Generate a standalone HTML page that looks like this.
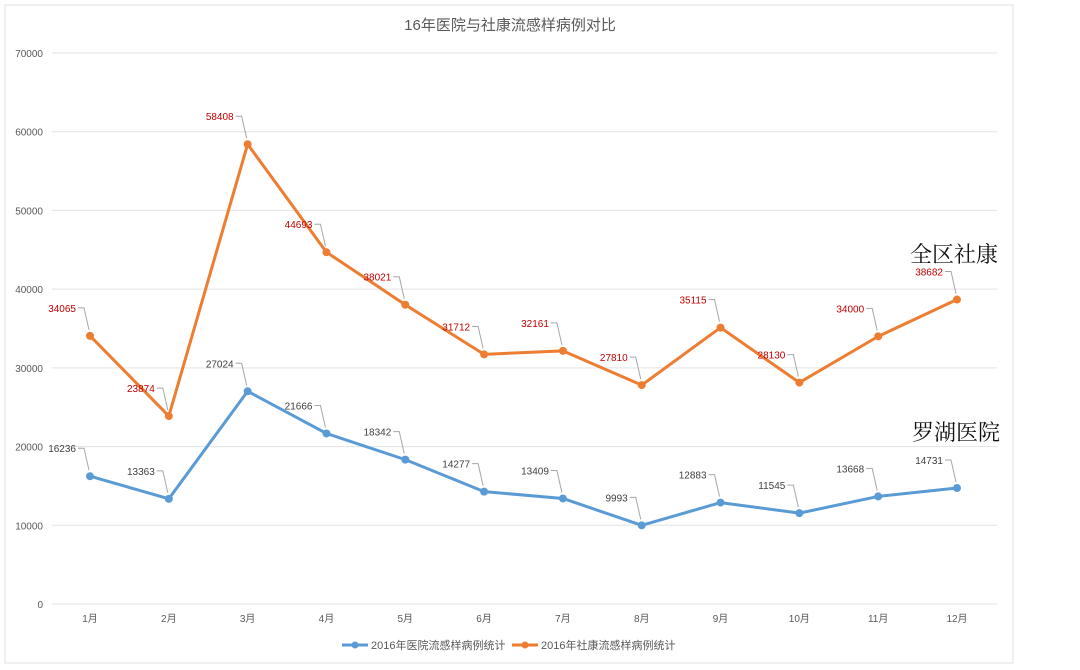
<!DOCTYPE html>
<html><head><meta charset="utf-8"><style>
body{margin:0;background:#fff;width:1080px;height:665px;overflow:hidden;font-family:"Liberation Sans","Noto Sans CJK SC",sans-serif}
</style></head><body>
<svg id="c" width="1080" height="665" xmlns="http://www.w3.org/2000/svg" font-family="Liberation Sans, Noto Sans CJK SC, sans-serif">
<rect x="5" y="5" width="1008" height="658" fill="#fff" stroke="#e0e0e0"/>
<text x="510" y="30" text-anchor="middle" font-size="15" fill="#595959">16年医院与社康流感样病例对比</text>
<g id="grid"></g><g id="xt"></g><g id="series"></g>
<text x="910" y="262" font-size="22" fill="#111" font-family="Noto Serif CJK SC, serif">全区社康</text>
<text x="912" y="440" font-size="22" fill="#111" font-family="Noto Serif CJK SC, serif">罗湖医院</text>
<g>
<line x1="342" y1="645" x2="368" y2="645" stroke="#5b9bd5" stroke-width="3"/><circle cx="355" cy="645" r="3.5" fill="#5b9bd5"/>
<text x="371" y="649" font-size="11" fill="#595959">2016年医院流感样病例统计</text>
<line x1="512" y1="645" x2="538" y2="645" stroke="#ed7d31" stroke-width="3"/><circle cx="525" cy="645" r="3.5" fill="#ed7d31"/>
<text x="541" y="649" font-size="11" fill="#595959">2016年社康流感样病例统计</text>
</g>
</svg>
<script>
const categories=["1月","2月","3月","4月","5月","6月","7月","8月","9月","10月","11月","12月"];
const hospital=[16236,13363,27024,21666,18342,14277,13409,9993,12883,11545,13668,14731];
const community=[34065,23874,58408,44693,38021,31712,32161,27810,35115,28130,34000,38682];
const yTicks=[0,10000,20000,30000,40000,50000,60000,70000];
const NS="http://www.w3.org/2000/svg";
function X(i){return 90+i*(957-90)/11;}
function Y(v){return 604-v*(604-53)/70000;}
function mk(t,a,p){const e=document.createElementNS(NS,t);for(const k in a)e.setAttribute(k,a[k]);p.appendChild(e);return e;}
const grid=document.getElementById('grid');
yTicks.forEach(v=>{
 const l=mk('line',{x1:52,x2:997,y1:Y(v),y2:Y(v),stroke:'#e3e3e3'},grid);
 
 
 const t=mk('text',{x:43,y:Y(v)+4,'text-anchor':'end','font-size':10,fill:'#595959'},grid);
 
 
 t.textContent=v;
});
const xt=document.getElementById('xt');
categories.forEach((c,i)=>{
 const t=mk('text',{x:X(i),y:622,'text-anchor':'middle','font-size':10,fill:'#595959'},xt);
 
 
 t.textContent=c;
});
const sg=document.getElementById('series');
function draw(data,color,labColor,name){
 const pl=mk('polyline',{points:data.map((v,i)=>X(i)+','+Y(v)).join(' '),fill:'none',stroke:color,'stroke-width':3,'stroke-linejoin':'round'},sg);
 
 
 data.forEach((v,i)=>{
  const x=X(i),y=Y(v);
  const ld=mk('polyline',{points:(x-12)+','+(y-28)+' '+(x-6)+','+(y-28)+' '+(x-1)+','+(y-6),fill:'none',stroke:'#a6a6a6','stroke-width':1},sg);
  
  
  const c=mk('circle',{cx:x,cy:y,r:4,fill:color},sg);
  
  
  const t=mk('text',{x:x-14,y:y-24,'text-anchor':'end','font-size':10,fill:labColor},sg);
  
  
  t.textContent=v;
 });
}
draw(hospital,'#5b9bd5','#404040','hospital');
draw(community,'#ed7d31','#c00000','community');
</script>
</body></html>
